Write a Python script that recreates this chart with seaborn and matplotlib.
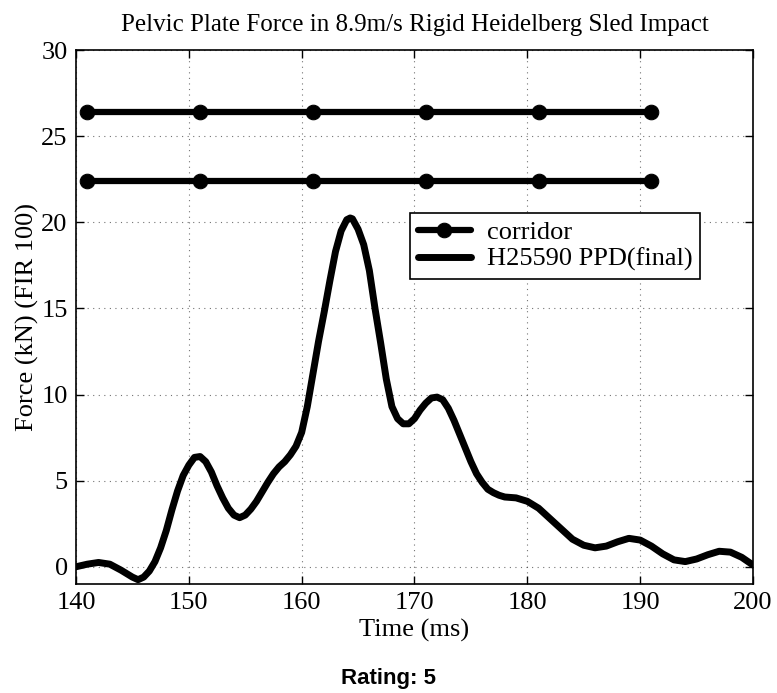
import matplotlib
matplotlib.use("Agg")
import matplotlib.pyplot as plt
import seaborn as sns
import pandas as pd

# Pelvic plate force trace
time_ms = [140, 141, 142, 143, 144, 145, 145.5, 146, 146.5, 147, 147.5, 148, 148.5,
           149, 149.5, 150, 150.5, 151, 151.5, 152, 152.5, 153, 153.5, 154, 154.5,
           155, 155.5, 156, 156.5, 157, 157.5, 158, 158.5, 159, 159.5, 160, 160.5,
           161, 161.5, 162, 162.5, 163, 163.5, 164, 164.3, 164.5, 165, 165.5, 166,
           166.5, 167, 167.5, 168, 168.5, 169, 169.5, 170, 170.5, 171, 171.5, 172,
           172.5, 173, 173.5, 174, 174.5, 175, 175.5, 176, 176.5, 177, 177.5, 178,
           179, 180, 181, 182, 183, 184, 185, 186, 187, 188, 189, 190, 191, 192,
           193, 194, 195, 196, 197, 198, 199, 200]
force_kn = [0.0, 0.15, 0.25, 0.15, -0.2, -0.6, -0.75, -0.6, -0.25, 0.3, 1.1, 2.1, 3.3,
            4.4, 5.3, 5.9, 6.35, 6.4, 6.1, 5.5, 4.7, 4.0, 3.4, 3.0, 2.85,
            3.0, 3.35, 3.8, 4.35, 4.9, 5.4, 5.8, 6.1, 6.5, 7.0, 7.8, 9.3,
            11.2, 13.1, 14.8, 16.6, 18.3, 19.5, 20.15, 20.25, 20.2, 19.6, 18.7, 17.2,
            15.0, 13.0, 10.9, 9.3, 8.6, 8.3, 8.3, 8.6, 9.1, 9.5, 9.8, 9.85,
            9.7, 9.2, 8.5, 7.7, 6.9, 6.1, 5.4, 4.9, 4.5, 4.3, 4.15, 4.05,
            4.0, 3.8, 3.4, 2.8, 2.2, 1.6, 1.25, 1.1, 1.2, 1.45, 1.65, 1.55, 1.2, 0.75,
            0.4, 0.3, 0.45, 0.7, 0.9, 0.85, 0.55, 0.1]

# Corridor bounds
corridor_t = [141, 151, 161, 171, 181, 191]
corridor_upper = [26.4, 26.4, 26.4, 26.4, 26.4, 26.4]
corridor_lower = [22.4, 22.4, 22.4, 22.4, 22.4, 22.4]

sns.set_style("ticks")
plt.rcParams['font.family'] = ['Liberation Serif', 'DejaVu Serif']
plt.rcParams['xtick.direction'] = 'in'
plt.rcParams['ytick.direction'] = 'in'
plt.rcParams['text.color'] = 'black'
plt.rcParams['axes.labelcolor'] = 'black'
plt.rcParams['xtick.color'] = 'black'
plt.rcParams['ytick.color'] = 'black'

fig = plt.figure(figsize=(7.77, 6.93), dpi=100)
ax = fig.add_axes([0.0978, 0.1573, 0.8713, 0.7705])

trace = pd.DataFrame({'t': time_ms, 'f': force_kn})

sns.lineplot(x=corridor_t, y=corridor_upper, ax=ax, color='black', linewidth=4.5,
             marker='o', markersize=10.5, markeredgecolor='black', label='corridor')
sns.lineplot(x=corridor_t, y=corridor_lower, ax=ax, color='black', linewidth=4.5,
             marker='o', markersize=10.5, markeredgecolor='black')
sns.lineplot(data=trace, x='t', y='f', ax=ax, color='black', linewidth=5,
             label='H25590 PPD(final)', sort=False)

ax.set_xlim(140, 200)
ax.set_ylim(-1, 30)
ax.set_xticks([140, 150, 160, 170, 180, 190, 200])
ax.set_yticks([0, 5, 10, 15, 20, 25, 30])
ax.tick_params(labelsize=19, top=True, right=True, length=6, width=1, pad=6)
ax.grid(True, linestyle=(0, (1, 4)), color='black', linewidth=0.8, alpha=0.55)
for s in ax.spines.values():
    s.set_linewidth(1.2)
    s.set_color('black')

ax.set_title('Pelvic Plate Force in 8.9m/s Rigid Heidelberg Sled Impact', fontsize=18, pad=14)
ax.set_xlabel('Time (ms)', fontsize=19, labelpad=3)
ax.set_ylabel('Force (kN) (FIR 100)', fontsize=19, labelpad=2)

leg = ax.legend(loc='upper left', bbox_to_anchor=(0.4934, 0.6953), borderaxespad=0,
                fontsize=19, fancybox=False, edgecolor='black', framealpha=1,
                handlelength=2.0, borderpad=0.3, labelspacing=0.12, handletextpad=0.6)
leg.get_frame().set_linewidth(1.2)

fig.text(0.5, 0.006, 'Rating: 5', ha='center', va='bottom', fontsize=16, fontweight='bold',
         family=['Liberation Sans Narrow', 'Liberation Sans', 'DejaVu Sans'])

fig.savefig('out.png', dpi=100)
